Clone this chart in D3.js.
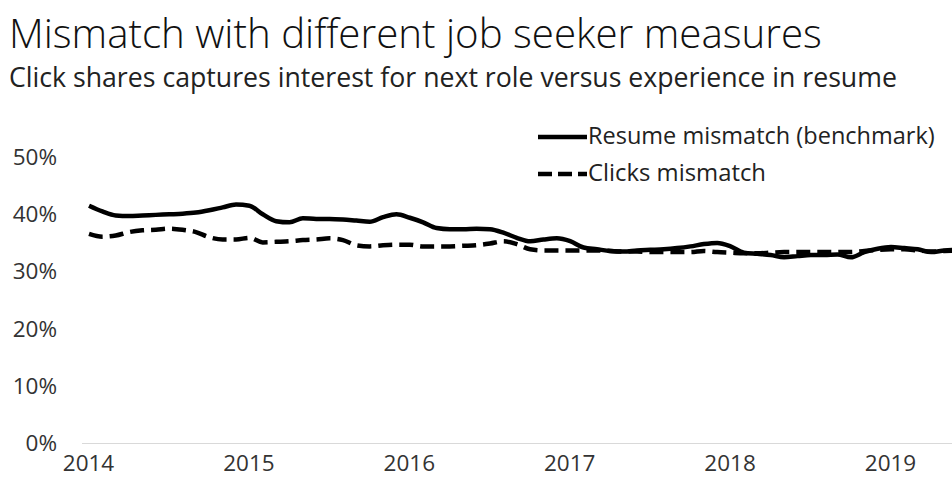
<!DOCTYPE html>
<html>
<head>
<meta charset="utf-8">
<script src="https://cdn.jsdelivr.net/npm/d3@7"></script>
<style>
  html, body { margin: 0; padding: 0; background: #fff; }
  svg { display: block; }
  text { font-family: "Open Sans", Lato, sans-serif; }
</style>
</head>
<body>
<svg id="chart" width="952" height="489"></svg>
<script>
// Monthly series, Jan 2014 onward (percent)
const startYear = 2014;
const resumeMismatch = [
  41.5, 40.5, 39.8, 39.7, 39.8, 39.9, 40.0, 40.1, 40.3, 40.7, 41.2, 41.7,
  41.5, 40.0, 38.8, 38.6, 39.3, 39.2, 39.2, 39.1, 38.9, 38.7, 39.5, 40.0,
  39.4, 38.6, 37.6, 37.4, 37.4, 37.5, 37.4, 36.8, 35.9, 35.3, 35.6, 35.8,
  35.3, 34.2, 33.9, 33.6, 33.5, 33.7, 33.8, 33.9, 34.1, 34.4, 34.8, 35.0,
  34.4, 33.3, 33.1, 32.9, 32.5, 32.7, 32.9, 32.9, 33.0, 32.5, 33.4, 34.0,
  34.3, 34.1, 33.9, 33.4, 33.7, 33.8
];
const clicksMismatch = [
  36.6, 36.1, 36.3, 36.9, 37.2, 37.3, 37.5, 37.3, 36.9, 36.0, 35.6, 35.6,
  35.9, 35.1, 35.2, 35.3, 35.5, 35.6, 35.8, 35.5, 34.6, 34.4, 34.6, 34.7,
  34.7, 34.4, 34.4, 34.4, 34.5, 34.6, 34.9, 35.3, 34.8, 33.9, 33.7, 33.7,
  33.7, 33.7, 33.7, 33.6, 33.5, 33.5, 33.4, 33.4, 33.4, 33.4, 33.6, 33.4,
  33.3, 33.2, 33.2, 33.3, 33.4, 33.4, 33.4, 33.4, 33.4, 33.4, 33.6, 33.8,
  33.9, 33.9, 33.7, 33.5, 33.6, 33.7
];
const yTicks = [0, 10, 20, 30, 40, 50];
const xTicks = [2014, 2015, 2016, 2017, 2018, 2019];
const seriesNames = ["Resume mismatch (benchmark)", "Clicks mismatch"];

const svg = d3.select("#chart");

const x = d3.scaleLinear().domain([2014, 2019]).range([89, 891]);
const y = d3.scaleLinear().domain([0, 50]).range([443.5, 157]);

// Scale a text's font size so it spans the given width
function fitWidth(sel, width) {
  const node = sel.node();
  const w = node.getComputedTextLength();
  const fs = parseFloat(sel.attr("font-size"));
  sel.attr("font-size", (fs * width / w).toFixed(2));
  return sel;
}

// Title and subtitle
fitWidth(svg.append("text")
  .attr("x", 9).attr("y", 48)
  .attr("font-size", 38).attr("font-weight", 300)
  .attr("fill", "#111")
  .text("Mismatch with different job seeker measures"), 813);
fitWidth(svg.append("text")
  .attr("x", 9).attr("y", 87)
  .attr("font-size", 23)
  .attr("fill", "#222")
  .text("Click shares captures interest for next role versus experience in resume"), 888);

// Baseline
svg.append("line")
  .attr("x1", 82).attr("x2", 952)
  .attr("y1", y(0)).attr("y2", y(0))
  .attr("stroke", "#d9d9d9").attr("stroke-width", 1.2);

// Y axis labels
const yAxis = d3.axisLeft(y).tickValues(yTicks).tickSize(0).tickPadding(0)
  .tickFormat(d => d + "%");
svg.append("g")
  .attr("transform", "translate(57,0)")
  .call(yAxis)
  .call(g => g.select(".domain").remove())
  .call(g => g.selectAll("text")
    .attr("font-family", "'Open Sans', sans-serif")
    .attr("font-size", 22.5).attr("fill", "#333"));

// X axis labels
const xAxis = d3.axisBottom(x).tickValues(xTicks).tickSize(0).tickPadding(0)
  .tickFormat(d3.format("d"));
svg.append("g")
  .attr("transform", "translate(-1,455)")
  .call(xAxis)
  .call(g => g.select(".domain").remove())
  .call(g => g.selectAll("text")
    .attr("font-family", "'Open Sans', sans-serif")
    .attr("font-size", 22.5).attr("fill", "#333"));

const line = d3.line()
  .x((d, i) => x(startYear + i / 12))
  .y(d => y(d))
  .curve(d3.curveMonotoneX);

svg.append("path")
  .datum(clicksMismatch)
  .attr("d", line)
  .attr("fill", "none").attr("stroke", "#000")
  .attr("stroke-width", 4.5)
  .attr("stroke-dasharray", "14,7");

svg.append("path")
  .datum(resumeMismatch)
  .attr("d", line)
  .attr("fill", "none").attr("stroke", "#000")
  .attr("stroke-width", 4.5)
  .attr("stroke-linejoin", "round");

// Legend
const legend = svg.append("g");
const legendRows = [
  { name: seriesNames[0], dash: null, y: 137, width: 347 },
  { name: seriesNames[1], dash: "14,6", y: 174, width: 178 }
];
legendRows.forEach(r => {
  legend.append("line")
    .attr("x1", 538).attr("x2", 587)
    .attr("y1", r.y).attr("y2", r.y)
    .attr("stroke", "#000").attr("stroke-width", 4.5)
    .attr("stroke-dasharray", r.dash);
  fitWidth(legend.append("text")
    .attr("x", 588).attr("y", r.y + 7)
    .attr("font-size", 20).attr("fill", "#222")
    .text(r.name), r.width);
});
</script>
</body>
</html>
